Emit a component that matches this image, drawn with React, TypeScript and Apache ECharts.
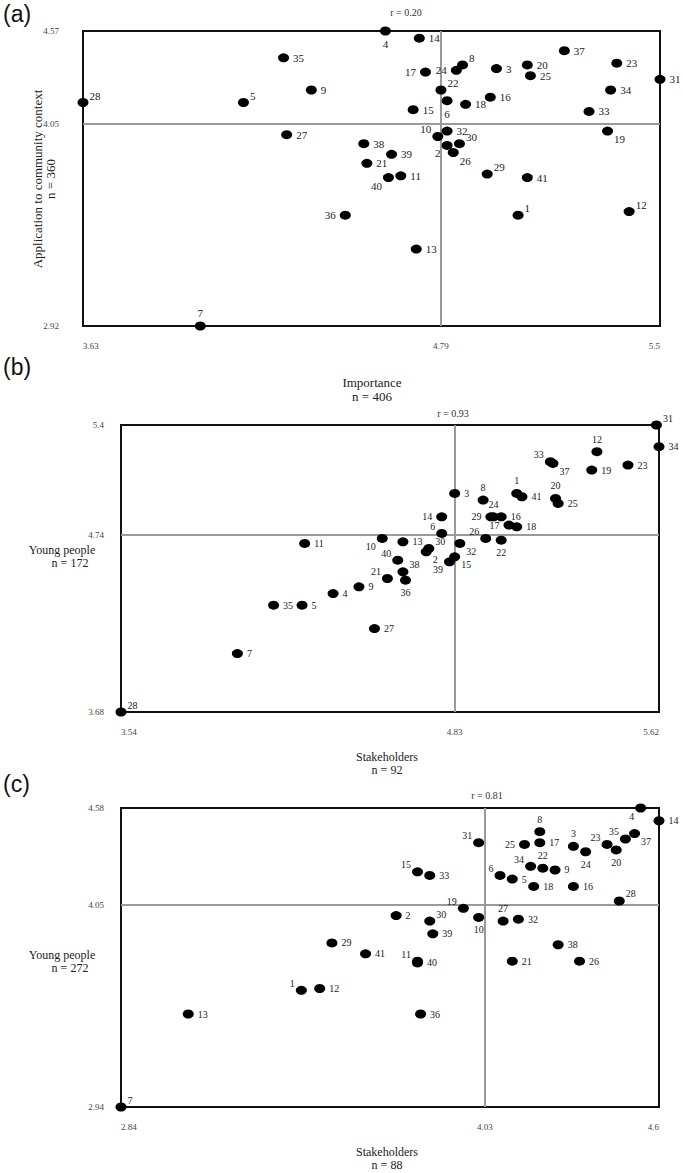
import React, { useEffect, useRef } from "react";
import * as echarts from "echarts";

const itemIds = ["1","2","3","4","5","6","7","8","9","10","11","12","13","14","15","16","17","18","19","20","21","22","23","24","25","26","27","28","29","30","31","32","33","34","35","36","37","38","39","40","41"];

// Panel (a): Importance (x) vs Application to community context (y)
const aImportance = [5.04,4.81,4.97,4.61,4.15,4.81,4.01,4.86,4.37,4.78,4.66,5.40,4.71,4.72,4.70,4.95,4.74,4.87,5.33,5.07,4.55,4.79,5.36,4.84,5.08,4.83,4.29,3.63,4.94,4.85,5.50,4.81,5.27,5.34,4.28,4.48,5.19,4.54,4.63,4.62,5.07];
const aApplication = [3.54,3.93,4.36,4.57,4.17,4.18,2.92,4.38,4.24,3.98,3.76,3.56,3.35,4.53,4.13,4.20,4.34,4.16,4.01,4.38,3.83,4.24,4.39,4.35,4.32,3.89,3.99,4.17,3.77,3.94,4.30,4.01,4.12,4.24,4.42,3.54,4.46,3.94,3.88,3.75,3.75];
const aXTicks = [3.63, 4.79, 5.5];
const aYTicks = [2.92, 4.05, 4.57];

// Panel (b): Stakeholders (x) vs Young people (y)
const bStakeholders = [5.07,4.72,4.83,4.36,4.24,4.78,3.99,4.94,4.46,4.55,4.25,5.38,4.63,4.78,4.83,5.01,5.04,5.07,5.36,5.22,4.57,5.01,5.50,4.98,5.23,4.95,4.52,3.54,4.97,4.73,5.61,4.85,5.20,5.62,4.13,4.64,5.21,4.63,4.81,4.61,5.09];
const bYoung = [4.99,4.64,4.99,4.39,4.32,4.75,4.03,4.95,4.43,4.72,4.69,5.24,4.70,4.85,4.61,4.85,4.80,4.79,5.13,4.96,4.48,4.71,5.16,4.85,4.93,4.72,4.18,3.68,4.85,4.66,5.40,4.69,5.18,5.27,4.32,4.47,5.17,4.52,4.58,4.59,4.97];
const bXTicks = [3.54, 4.83, 5.62];
const bYTicks = [3.68, 4.74, 5.4];

// Panel (c): Stakeholders (x) vs Young people (y)
const cStakeholders = [3.43,3.74,4.32,4.54,4.12,4.08,2.84,4.21,4.26,4.01,3.81,3.49,3.06,4.60,3.81,4.32,4.21,4.19,3.96,4.46,4.12,4.22,4.43,4.36,4.16,4.34,4.09,4.47,3.53,3.85,4.01,4.14,3.85,4.18,4.49,3.82,4.52,4.27,3.86,3.81,3.64];
const cYoung = [3.58,3.99,4.37,4.58,4.19,4.21,2.94,4.45,4.24,3.98,3.74,3.59,3.45,4.51,4.23,4.15,4.39,4.15,4.03,4.35,3.74,4.25,4.38,4.34,4.38,3.74,3.96,4.07,3.84,3.96,4.39,3.97,4.21,4.26,4.41,3.45,4.44,3.83,3.89,3.73,3.78];
const cXTicks = [2.84, 4.03, 4.6];
const cYTicks = [2.94, 4.05, 4.58];

const correlations = ["r = 0.20", "r = 0.93", "r = 0.81"];

// label placement codes (layout only)
const aLabelPos = ["tr","bl","r","b","tr","b","t","tr","r","tl","r","tr","r","r","r","r","l","r","br","r","r","tr","r","l","r","br","r","tr","tr","tr","r","r","r","r","r","l","r","r","r","bl","r"];
const bLabelPos = ["t","br","r","r","r","tl","r","t","r","bl","r","t","r","l","br","r","l","r","r","t","tl","b","r","t","r","tl","r","tr","l","tr","tr","br","tl","r","r","b","br","tr","bl","tl","r"];
const cLabelPos = ["tl","r","t","bl","r","tl","tr","t","r","b","tl","r","r","r","tl","r","r","r","tl","b","r","t","tl","b","l","r","t","tr","r","tr","tl","r","r","tl","tl","r","br","r","r","r","r"];

const SERIF = "'Liberation Serif', 'DejaVu Serif', serif";
const SANS = "'Liberation Sans', Arial, sans-serif";
const LABEL_COLOR = "#1a1a1a";

function labelFor(code: string, size: number) {
  const base = { color: LABEL_COLOR, fontFamily: SERIF, fontSize: size };
  switch (code) {
    case "r": return { ...base, position: "right", distance: 4 };
    case "l": return { ...base, position: "left", distance: 4 };
    case "t": return { ...base, position: "top", distance: 3 };
    case "b": return { ...base, position: "bottom", distance: 3 };
    case "tr": return { ...base, position: "right", distance: 1, offset: [0, -7] };
    case "br": return { ...base, position: "right", distance: 1, offset: [0, 8] };
    case "tl": return { ...base, position: "left", distance: 1, offset: [0, -7] };
    case "bl": return { ...base, position: "left", distance: 1, offset: [0, 8] };
    default: return { ...base, position: "right" };
  }
}

function buildData(xs: number[], ys: number[], pos: string[], size: number) {
  return xs.map((x, i) => ({
    name: itemIds[i],
    value: [x, ys[i]],
    label: labelFor(pos[i], size),
  }));
}

const grids = [
  { left: 83, top: 31, width: 577, height: 295 },
  { left: 121, top: 425, width: 538, height: 287 },
  { left: 121, top: 808, width: 538, height: 299 },
];

export default function App() {
  const ref = useRef<HTMLDivElement>(null);
  useEffect(() => {
    if (!ref.current) return;
    const chart = echarts.init(ref.current, null, { renderer: "svg" });
    const xTicks = [aXTicks, bXTicks, cXTicks];
    const yTicks = [aYTicks, bYTicks, cYTicks];
    const yMargins = [24, 17, 17];
    const labelSizes = [11, 10, 10];
    const datasets = [
      buildData(aImportance, aApplication, aLabelPos, labelSizes[0]),
      buildData(bStakeholders, bYoung, bLabelPos, labelSizes[1]),
      buildData(cStakeholders, cYoung, cLabelPos, labelSizes[2]),
    ];

    const option: any = {
      animation: false,
      backgroundColor: "#fff",
      grid: grids.map((g) => ({ ...g, show: true, borderColor: "#111", borderWidth: 2, backgroundColor: "transparent" })),
      xAxis: xTicks.map((t, i) => ({
        type: "value",
        gridIndex: i,
        min: t[0],
        max: t[2],
        axisLine: { show: false },
        axisTick: { show: false },
        splitLine: { show: false },
        axisLabel: {
          customValues: t,
          fontFamily: SERIF,
          fontSize: 9,
          color: "#444",
          margin: 15,
          alignMinLabel: "left",
          alignMaxLabel: "right",
        },
      })),
      yAxis: yTicks.map((t, i) => ({
        type: "value",
        gridIndex: i,
        min: t[0],
        max: t[2],
        axisLine: { show: false },
        axisTick: { show: false },
        splitLine: { show: false },
        axisLabel: {
          customValues: t,
          fontFamily: SERIF,
          fontSize: 9,
          color: "#444",
          margin: yMargins[i],
        },
      })),
      series: datasets.map((d, i) => ({
        type: "scatter",
        xAxisIndex: i,
        yAxisIndex: i,
        data: d,
        clip: false,
        symbol: "circle",
        symbolSize: [11, 9],
        itemStyle: { color: "#000", opacity: 1 },
        z: 5,
        label: {
          show: true,
          formatter: "{b}",
          fontFamily: SERIF,
          fontSize: labelSizes[i],
          color: LABEL_COLOR,
        },
        markLine: {
          silent: true,
          symbol: "none",
          animation: false,
          label: { show: false },
          lineStyle: { color: "#9a9a9a", width: 2, type: "solid" },
          data: [{ xAxis: xTicks[i][1] }, { yAxis: yTicks[i][1] }],
          z: 1,
        },
      })),
      graphic: [
        { type: "text", left: 3, top: 2, style: { text: "(a)", font: `23px ${SANS}`, fill: "#111" } },
        { type: "text", left: 3, top: 355, style: { text: "(b)", font: `23px ${SANS}`, fill: "#111" } },
        { type: "text", left: 3, top: 772, style: { text: "(c)", font: `23px ${SANS}`, fill: "#111" } },
        { type: "text", x: 406, y: 12, style: { text: correlations[0], font: `10px ${SERIF}`, fill: "#333", align: "center", verticalAlign: "middle" } },
        { type: "text", x: 453, y: 413, style: { text: correlations[1], font: `10px ${SERIF}`, fill: "#333", align: "center", verticalAlign: "middle" } },
        { type: "text", x: 487, y: 795, style: { text: correlations[2], font: `10px ${SERIF}`, fill: "#333", align: "center", verticalAlign: "middle" } },
        { type: "text", x: 372, y: 382, style: { text: "Importance", font: `13px ${SERIF}`, fill: "#222", align: "center", verticalAlign: "middle" } },
        { type: "text", x: 372, y: 396, style: { text: "n = 406", font: `13px ${SERIF}`, fill: "#222", align: "center", verticalAlign: "middle" } },
        { type: "text", x: 37, y: 179, rotation: Math.PI / 2, style: { text: "Application to community context", font: `13px ${SERIF}`, fill: "#222", align: "center", verticalAlign: "middle" } },
        { type: "text", x: 50, y: 179, rotation: Math.PI / 2, style: { text: "n = 360", font: `13px ${SERIF}`, fill: "#222", align: "center", verticalAlign: "middle" } },
        { type: "text", x: 62, y: 550, style: { text: "Young people", font: `12px ${SERIF}`, fill: "#222", align: "center", verticalAlign: "middle" } },
        { type: "text", x: 70, y: 563, style: { text: "n = 172", font: `12px ${SERIF}`, fill: "#222", align: "center", verticalAlign: "middle" } },
        { type: "text", x: 387, y: 757, style: { text: "Stakeholders", font: `12px ${SERIF}`, fill: "#222", align: "center", verticalAlign: "middle" } },
        { type: "text", x: 387, y: 770, style: { text: "n = 92", font: `12px ${SERIF}`, fill: "#222", align: "center", verticalAlign: "middle" } },
        { type: "text", x: 62, y: 955, style: { text: "Young people", font: `12px ${SERIF}`, fill: "#222", align: "center", verticalAlign: "middle" } },
        { type: "text", x: 70, y: 968, style: { text: "n = 272", font: `12px ${SERIF}`, fill: "#222", align: "center", verticalAlign: "middle" } },
        { type: "text", x: 387, y: 1152, style: { text: "Stakeholders", font: `12px ${SERIF}`, fill: "#222", align: "center", verticalAlign: "middle" } },
        { type: "text", x: 387, y: 1165, style: { text: "n = 88", font: `12px ${SERIF}`, fill: "#222", align: "center", verticalAlign: "middle" } },
      ],
    };
    chart.setOption(option);
    return () => chart.dispose();
  }, []);
  return (
    <div
      ref={ref}
      style={{ position: "absolute", left: 0, top: 0, width: 683, height: 1173, background: "#fff" }}
    />
  );
}
